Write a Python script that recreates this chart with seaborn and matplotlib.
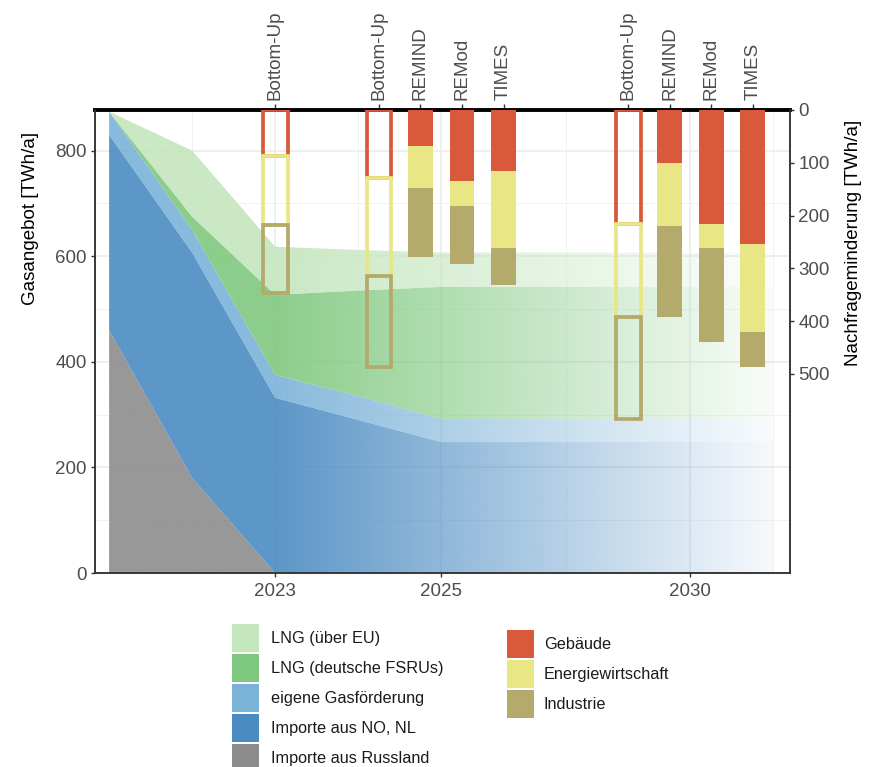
import numpy as np
import matplotlib
matplotlib.use("Agg")
import matplotlib.pyplot as plt
import seaborn as sns
from matplotlib.colors import to_rgb
from matplotlib.patches import Patch

# supply (left axis, TWh/a). x is the axis position: the axis is squeezed
# after 2025, the tick "2030" sits at position 2028
supply_x = [2021, 2022, 2023, 2024, 2025, 2029]
russland = [460, 180, 0, 0, 0, 0]
no_nl = [370, 427, 332, 290, 248, 248]
eigene = [44, 43, 43, 45, 44, 44]
fsru = [0, 25, 152, 200, 250, 250]
lng_eu = [0, 125, 91, 77, 65, 65]

supply_labels = ["Importe aus Russland", "Importe aus NO, NL", "eigene Gasförderung",
                 "LNG (deutsche FSRUs)", "LNG (über EU)"]
supply_colors = ["#8c8c8c", "#4a8bc2", "#7ab2d8", "#7fc87f", "#c3e6bd"]

# demand reduction (right axis, TWh/a)
bar_year = [2023, 2025, 2025, 2025, 2025, 2030, 2030, 2030, 2030]
models = ["Bottom-Up", "Bottom-Up", "REMIND", "REMod", "TIMES",
          "Bottom-Up", "REMIND", "REMod", "TIMES"]
gebaeude = [88, 129, 69, 134, 115, 215, 100, 215, 253]
energie = [129, 186, 78, 47, 146, 177, 119, 46, 167]
industrie = [130, 172, 131, 110, 70, 194, 173, 178, 67]

demand_labels = ["Gebäude", "Energiewirtschaft", "Industrie"]
demand_colors = ["#d95a3a", "#e8e685", "#b3aa6b"]

year_ticks = [2023, 2025, 2030]
year_pos = {2023: 2023, 2025: 2025, 2030: 2028}

sns.set_theme(style="white")
plt.rcParams["font.family"] = ["Liberation Sans", "DejaVu Sans"]

fig = plt.figure(figsize=(8.72, 7.67), dpi=100)
ax = fig.add_axes([95 / 872, 194 / 767, 695 / 872, 463 / 767])
ymax = 877
xmin, xmax = 2020.83, 2029.2

# stacked areas, fading out to the right
gx = np.linspace(supply_x[0], supply_x[-1], 800)
fade = np.where(gx < 2023, 1.0, 1 - 0.95 * (gx - 2023) / (supply_x[-1] - 2023))
alpha_row = 0.9 * fade
lower = np.zeros(len(supply_x))
for vals, col in zip([russland, no_nl, eigene, fsru, lng_eu], supply_colors):
    upper = lower + np.array(vals, dtype=float)
    poly = ax.fill_between(supply_x, lower, upper, facecolor="none", edgecolor="none")
    img = np.zeros((1, len(gx), 4))
    img[..., :3] = to_rgb(col)
    img[..., 3] = alpha_row
    im = ax.imshow(img, extent=[supply_x[0], supply_x[-1], 0, ymax], aspect="auto",
                   interpolation="bilinear", zorder=1)
    im.set_clip_path(poly.get_paths()[0], transform=ax.transData)
    lower = upper

ax.set_xlim(xmin, xmax)
ax.set_ylim(0, ymax)
ax.set_axisbelow(True)
ax.set_xticks([year_pos[y] for y in year_ticks], [str(y) for y in year_ticks])
ax.set_xticks([2022, 2024, 2026.5, 2029], minor=True)
ax.set_yticks([0, 200, 400, 600, 800])
ax.set_yticks([100, 300, 500, 700], minor=True)
ax.grid(which="major", color="#ebebeb", lw=1.1)
ax.grid(which="minor", color="#f2f2f2", lw=0.7)
ax.tick_params(which="minor", length=0)
ax.tick_params(which="major", left=True, bottom=True, length=3, width=1, color="#333333",
               labelcolor="#4d4d4d", labelsize=13.5, pad=3)
ax.tick_params(axis="x", pad=4)
ax.set_ylabel("Gasangebot [TWh/a]", fontsize=13.5, color="black")
ax.yaxis.set_label_coords(-0.081, 0.765)

# demand reduction bars hanging from the top
ax2 = ax.twinx()
ax2.set_ylim(ymax, 0)
ax2.grid(False)
pos = []
for i, (y, m) in enumerate(zip(bar_year, models)):
    grp = [j for j, yy in enumerate(bar_year) if yy == y]
    k = grp.index(i)
    pos.append(year_pos[y] + (k - (len(grp) - 1) / 2) * 0.5)
pos = np.array(pos)
hollow = np.array([m == "Bottom-Up" for m in models])
cum = np.zeros(len(models))
for vals, col in zip([gebaeude, energie, industrie], demand_colors):
    v = np.array(vals, dtype=float)
    ax2.bar(pos[~hollow], v[~hollow], bottom=cum[~hollow], width=0.3, color=col,
            linewidth=0, zorder=3)
    ax2.bar(pos[hollow], v[hollow], bottom=cum[hollow], width=0.3, facecolor="none",
            edgecolor=col, linewidth=2.7, zorder=3)
    cum += v

ax2.set_yticks(range(0, 600, 100))
ax2.tick_params(axis="y", right=True, length=3, width=1, color="#333333",
                labelcolor="#4d4d4d", labelsize=13.5, pad=3)
ax2.set_ylabel("Nachfrageminderung [TWh/a]", fontsize=13.5, color="black")
ax2.yaxis.set_label_coords(1.079, 0.713)

top = ax2.secondary_xaxis("top")
top.set_xticks(pos, models, rotation=90)
top.tick_params(top=True, length=4, width=1, color="#333333", labelcolor="#4d4d4d",
                labelsize=13.5, pad=3)
top.spines["top"].set_linewidth(2.8)
top.spines["top"].set_color("black")

for a in (ax, ax2):
    a.spines["top"].set_visible(False)
    for s in ("left", "bottom", "right"):
        a.spines[s].set_color("#333333")
        a.spines[s].set_linewidth(1.1)

# legends below the plot
h1 = [Patch(facecolor=c, edgecolor="none") for c in supply_colors][::-1]
fig.legend(h1, supply_labels[::-1], loc="upper left",
           bbox_to_anchor=(232 / 872, 1 - 624 / 767), frameon=False,
           fontsize=11.7, handlelength=1.66, handleheight=2.27, labelspacing=0.12,
           handletextpad=0.74, borderpad=0, borderaxespad=0, labelcolor="#1a1a1a")
h2 = [Patch(facecolor=c, edgecolor="none") for c in demand_colors]
fig.legend(h2, demand_labels, loc="upper left",
           bbox_to_anchor=(507 / 872, 1 - 630 / 767), frameon=False,
           fontsize=11.7, handlelength=1.66, handleheight=2.27, labelspacing=0.12,
           handletextpad=0.6, borderpad=0, borderaxespad=0, labelcolor="#1a1a1a")

fig.savefig("out.png", dpi=100)
